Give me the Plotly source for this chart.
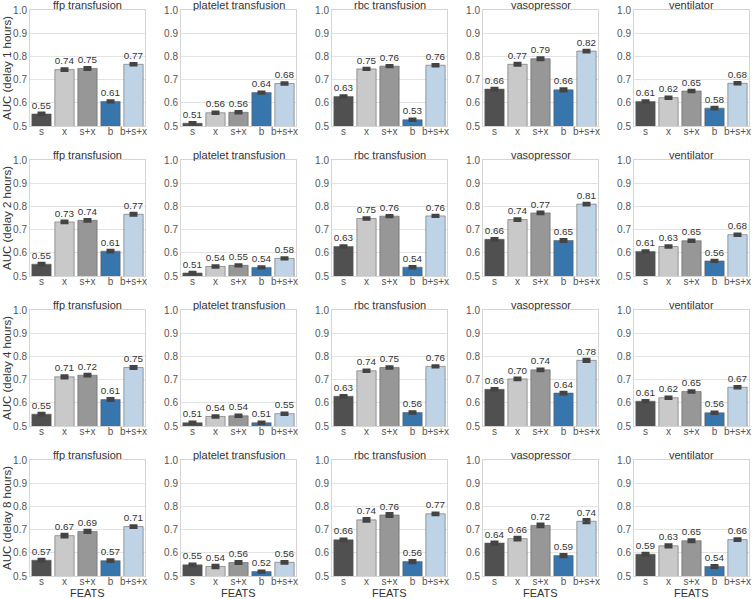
import plotly.graph_objects as go

W, H = 752, 599
feats = ["s", "x", "s+x", "b", "b+s+x"]
tasks = ["ffp transfusion", "platelet transfusion", "rbc transfusion", "vasopressor", "ventilator"]
delays = [1, 2, 4, 8]

# AUC values [delay][task] -> list over feats
auc_d1 = [
    [0.552, 0.743, 0.748, 0.606, 0.766],
    [0.512, 0.557, 0.559, 0.644, 0.683],
    [0.627, 0.746, 0.758, 0.527, 0.762],
    [0.659, 0.766, 0.790, 0.656, 0.823],
    [0.606, 0.622, 0.651, 0.577, 0.684],
]
auc_d2 = [
    [0.551, 0.733, 0.740, 0.607, 0.766],
    [0.513, 0.541, 0.546, 0.537, 0.576],
    [0.627, 0.748, 0.758, 0.538, 0.759],
    [0.658, 0.743, 0.772, 0.653, 0.810],
    [0.606, 0.627, 0.652, 0.565, 0.678],
]
auc_d4 = [
    [0.551, 0.712, 0.719, 0.614, 0.752],
    [0.514, 0.541, 0.544, 0.514, 0.553],
    [0.628, 0.738, 0.752, 0.558, 0.757],
    [0.658, 0.703, 0.742, 0.642, 0.783],
    [0.607, 0.622, 0.649, 0.557, 0.667],
]
auc_d8 = [
    [0.568, 0.674, 0.692, 0.566, 0.713],
    [0.548, 0.541, 0.558, 0.519, 0.559],
    [0.656, 0.742, 0.763, 0.562, 0.768],
    [0.642, 0.661, 0.718, 0.588, 0.736],
    [0.594, 0.630, 0.652, 0.541, 0.657],
]
err_d1 = [
    [0.004, 0.004, 0.004, 0.003, 0.003],
    [0.003, 0.003, 0.003, 0.003, 0.003],
    [0.003, 0.003, 0.003, 0.003, 0.003],
    [0.004, 0.004, 0.004, 0.005, 0.004],
    [0.003, 0.003, 0.003, 0.004, 0.003],
]
err_d2 = [
    [0.004, 0.004, 0.004, 0.004, 0.004],
    [0.003, 0.003, 0.003, 0.003, 0.003],
    [0.003, 0.003, 0.003, 0.003, 0.003],
    [0.004, 0.004, 0.004, 0.004, 0.004],
    [0.003, 0.003, 0.003, 0.003, 0.003],
]
err_d4 = [
    [0.004, 0.005, 0.004, 0.004, 0.004],
    [0.003, 0.003, 0.003, 0.003, 0.003],
    [0.003, 0.003, 0.003, 0.003, 0.003],
    [0.004, 0.004, 0.004, 0.004, 0.005],
    [0.003, 0.003, 0.003, 0.003, 0.003],
]
err_d8 = [
    [0.004, 0.006, 0.005, 0.004, 0.004],
    [0.004, 0.005, 0.004, 0.003, 0.004],
    [0.004, 0.006, 0.006, 0.005, 0.004],
    [0.005, 0.006, 0.006, 0.005, 0.007],
    [0.004, 0.005, 0.004, 0.004, 0.004],
]
auc = [auc_d1, auc_d2, auc_d4, auc_d8]
err = [err_d1, err_d2, err_d4, err_d8]

colors = ["#505050", "#c9c9c9", "#979797", "#3775ad", "#bfd3e6"]
y_ticks = [0.5, 0.6, 0.7, 0.8, 0.9, 1.0]

col_left = [30, 181, 332, 483, 634]
pw = 115
row_top = [10, 160, 310, 460]
ph = 116

fig = go.Figure()
annotations = []
layout = {}
FONT = "Liberation Sans, Arial, sans-serif"

for r in range(4):
    for c in range(5):
        idx = r * 5 + c + 1
        xa = "x" if idx == 1 else f"x{idx}"
        ya = "y" if idx == 1 else f"y{idx}"
        vals = auc[r][c]
        fig.add_trace(go.Bar(
            x=feats, y=vals, xaxis=xa, yaxis=ya,
            marker=dict(color=colors, line=dict(color="rgba(90,90,90,0.55)", width=1)),
            error_y=dict(type="data", array=err[r][c], color="#444444", thickness=3, width=4),
            text=[f"{v:.2f}" for v in vals], textposition="outside",
            textfont=dict(size=12.5, color="#333333", family=FONT),
            cliponaxis=False, showlegend=False, hoverinfo="x+y",
        ))
        x0 = col_left[c] / W
        x1 = (col_left[c] + pw) / W
        y1 = 1 - row_top[r] / H
        y0 = 1 - (row_top[r] + ph) / H
        layout["xaxis" if idx == 1 else f"xaxis{idx}"] = dict(
            domain=[x0, x1], anchor=ya, type="category", automargin=False,
            showgrid=False, showline=True, linecolor="#d5d5d5", mirror=True,
            ticks="", ticklabelstandoff=-4,
            tickfont=dict(size=10, color="#555555", family=FONT),
            range=[-0.5, 4.5],
        )
        layout["yaxis" if idx == 1 else f"yaxis{idx}"] = dict(
            domain=[y0, y1], anchor=xa, range=[0.5, 1.0], automargin=False,
            tickvals=y_ticks, ticktext=[f"{t:.1f}" for t in y_ticks],
            showgrid=True, gridcolor="#e3e3e3", gridwidth=1,
            showline=True, linecolor="#d5d5d5", mirror=True, zeroline=False,
            ticks="", tickfont=dict(size=10, color="#555555", family=FONT),
        )
        annotations.append(dict(
            text=tasks[c], x=(x0 + x1) / 2, y=1 - (row_top[r] - 5) / H,
            xref="paper", yref="paper",
            xanchor="center", yanchor="middle", showarrow=False,
            font=dict(size=11, color="#333333", family=FONT),
        ))
    annotations.append(dict(
        text=f"AUC (delay {delays[r]} hours)", x=7 / W, y=1 - (row_top[r] + ph / 2) / H,
        xref="paper", yref="paper", xanchor="center", yanchor="middle",
        textangle=-90, showarrow=False,
        font=dict(size=11.5, color="#333333", family=FONT),
    ))

for c in range(5):
    annotations.append(dict(
        text="FEATS", x=(col_left[c] + pw / 2) / W, y=(H - 593) / H,
        xref="paper", yref="paper", xanchor="center", yanchor="middle",
        showarrow=False, font=dict(size=11, color="#333333", family=FONT),
    ))

fig.update_layout(
    width=W, height=H, margin=dict(l=0, r=0, t=0, b=0, autoexpand=False),
    paper_bgcolor="white", plot_bgcolor="white",
    bargap=0.16, annotations=annotations, **layout,
)
fig.write_html(
    "out.html",
    config={"displayModeBar": False},
    post_script="document.body.style.margin='0';document.body.style.padding='0';document.body.style.overflow='hidden';",
)
